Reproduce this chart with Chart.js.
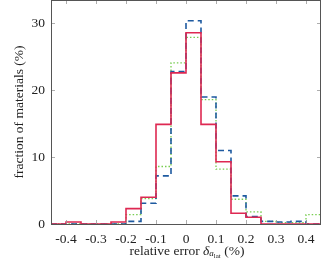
<!DOCTYPE html>
<html>
  <head>
    <style>
      html, body { margin: 0; padding: 0; background: #fff; }
      #wrap { width: 322px; height: 263px; position: relative; }
    </style>
    <script src="https://cdn.jsdelivr.net/npm/chart.js"></script>
  </head>
  <body>
    <div id="wrap"><canvas id="hist"></canvas></div>
    <script>
      // bin edges (relative error, %) and the three histograms (fraction of materials, %)
      const binEdges = [-0.45, -0.4, -0.35, -0.3, -0.25, -0.2, -0.15, -0.1, -0.05, 0,
        0.05, 0.1, 0.15, 0.2, 0.25, 0.3, 0.35, 0.4, 0.45];
      const redValues = [0, 0.3, 0, 0, 0.3, 2.3, 4.0, 14.9, 22.6, 28.6, 14.9, 9.3, 1.6, 1.0, 0, 0, 0, 0];
      const blueValues = [0, 0, 0, 0, 0, 0.4, 3.1, 7.2, 22.8, 30.4, 19.0, 11.0, 4.2, 1.1, 0.4, 0.3, 0.4, 0];
      const greenValues = [0, 0, 0, 0, 0, 1.4, 3.8, 8.6, 24.1, 27.9, 18.6, 8.2, 3.7, 1.8, 0.4, 0.2, 0.2, 1.4];
      const xTicks = [-0.4, -0.3, -0.2, -0.1, 0, 0.1, 0.2, 0.3, 0.4];
      const yTicks = [0, 10, 20, 30];

      const serif = "'Liberation Serif', 'DejaVu Serif', serif";

      // step outline: each bin value holds from its left edge to the next one
      const toSteps = (vals) => {
        const pts = vals.map((v, i) => ({ x: binEdges[i], y: v }));
        pts.push({ x: binEdges[binEdges.length - 1], y: vals[vals.length - 1] });
        return pts;
      };

      // inward ticks on all four sides + axis titles, like pgfplots
      const frame = {
        id: "frame",
        afterDraw(chart) {
          const { ctx, chartArea: a, scales } = chart;
          ctx.save();
          ctx.strokeStyle = "#999";
          ctx.lineWidth = 0.8;
          ctx.beginPath();
          for (const t of xTicks) {
            const px = Math.round(scales.x.getPixelForValue(t)) + 0.5;
            ctx.moveTo(px, a.bottom); ctx.lineTo(px, a.bottom - 4);
            ctx.moveTo(px, a.top); ctx.lineTo(px, a.top + 4);
          }
          for (const t of yTicks) {
            const py = Math.round(scales.y.getPixelForValue(t)) + 0.5;
            if (t === 0) continue;
            ctx.moveTo(a.left, py); ctx.lineTo(a.left + 4, py);
            ctx.moveTo(a.right, py); ctx.lineTo(a.right - 4, py);
          }
          ctx.stroke();

          ctx.strokeStyle = "#555";
          ctx.lineWidth = 1;
          ctx.strokeRect(a.left + 0.5, a.top + 0.5, a.right - a.left - 1, a.bottom - a.top);

          ctx.fillStyle = "#222";
          ctx.textBaseline = "middle";
          ctx.textAlign = "center";

          // y title
          ctx.save();
          ctx.translate(19, 112);
          ctx.rotate(-Math.PI / 2);
          ctx.font = "13.5px " + serif;
          ctx.fillText("fraction of materials (%)", 0, 0);
          ctx.restore();

          // x title with the subscript a_lat
          const parts = [
            { s: "relative error ", f: "13.5px " + serif, dy: 0 },
            { s: "δ", f: "italic 13.5px " + serif, dy: 0 },
            { s: "a", f: "italic 9px " + serif, dy: 3 },
            { s: "lat", f: "7px " + serif, dy: 5 },
            { s: " (%)", f: "13.5px " + serif, dy: 0 },
          ];
          let w = 0;
          for (const p of parts) { ctx.font = p.f; p.w = ctx.measureText(p.s).width; w += p.w; }
          let x = 187 - w / 2;
          ctx.textAlign = "left";
          for (const p of parts) {
            ctx.font = p.f;
            ctx.fillText(p.s, x, 251 + p.dy);
            x += p.w;
          }
          ctx.restore();
        },
      };

      new Chart(document.getElementById("hist"), {
        type: "line",
        data: {
          datasets: [
            {
              label: "red",
              data: toSteps(redValues),
              stepped: true,
              borderColor: "rgb(222, 40, 82)",
              borderWidth: 1.6,
              pointRadius: 0,
              fill: false,
            },
            {
              label: "blue",
              data: toSteps(blueValues),
              stepped: true,
              borderColor: "rgb(30, 90, 160)",
              borderWidth: 1.6,
              borderDash: [6, 4],
              pointRadius: 0,
              fill: false,
            },
            {
              label: "green",
              data: toSteps(greenValues),
              stepped: true,
              borderColor: "rgb(120, 205, 80)",
              borderWidth: 1.3,
              borderDash: [1.5, 2],
              pointRadius: 0,
              fill: false,
            },
          ],
        },
        options: {
          responsive: true,
          maintainAspectRatio: false,
          animation: false,
          layout: { autoPadding: false, padding: { top: 0, right: 1, bottom: 0, left: 0 } },
          plugins: { legend: { display: false }, tooltip: { enabled: false } },
          scales: {
            x: {
              type: "linear",
              min: -0.45,
              max: 0.45,
              afterBuildTicks: (s) => { s.ticks = xTicks.map((v) => ({ value: v })); },
              afterFit: (s) => { s.height = 39; s.paddingLeft = 0; s.paddingRight = 0; },
              grid: { display: false, drawTicks: false },
              border: { display: false },
              ticks: {
                padding: 7,
                color: "#222",
                font: { family: serif, size: 13.5 },
                maxRotation: 0,
                callback: (v) => (v === 0 ? "0" : String(v)),
              },
            },
            y: {
              min: 0,
              max: 33.5,
              afterBuildTicks: (s) => { s.ticks = yTicks.map((v) => ({ value: v })); },
              afterFit: (s) => { s.width = 51; s.paddingTop = 0; s.paddingBottom = 0; },
              grid: { display: false, drawTicks: false },
              border: { display: false },
              ticks: {
                padding: 6,
                color: "#222",
                font: { family: serif, size: 13.5 },
              },
            },
          },
        },
        plugins: [frame],
      });
    </script>
  </body>
</html>
